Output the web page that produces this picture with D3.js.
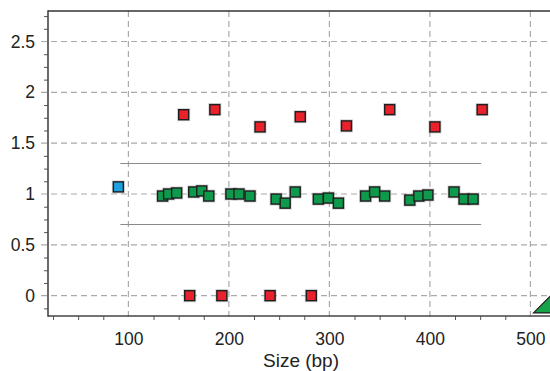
<!DOCTYPE html>
<html>
<head>
<meta charset="utf-8">
<script src="https://cdn.jsdelivr.net/npm/d3@7"></script>
<style>
  body { margin: 0; background: #fff; }
  svg { display: block; font-family: "Liberation Sans", Arial, sans-serif; }
</style>
</head>
<body>
<div id="chart"></div>
<script>
// data (x = size in bp, y = ratio)
var greenX = [134, 140, 148, 165, 173, 180, 202, 210, 221, 247, 256, 266, 289, 299, 309, 336, 345, 355, 380, 389, 398, 424, 434, 443]
var greenY = [0.98, 1.00, 1.01, 1.02, 1.03, 0.98, 1.00, 1.00, 0.98, 0.95, 0.91, 1.02, 0.95, 0.96, 0.91, 0.98, 1.02, 0.98, 0.94, 0.98, 0.99, 1.02, 0.95, 0.95]
var redX = [155, 186, 231, 271, 317, 360, 405, 452, 161, 193, 241, 282]
var redY = [1.78, 1.83, 1.66, 1.76, 1.67, 1.83, 1.66, 1.83, 0, 0, 0, 0]
var blueX = [90]
var blueY = [1.07]
var limitLines = [1.3, 0.7]
var limitRange = [92, 451]
var yTicks = [0, 0.5, 1, 1.5, 2, 2.5]
var xTicks = [100, 200, 300, 400, 500]
var markerX = [521]

var width = 550, height = 371
var mLeft = 48, mTop = 11, mBottom = 316

var svg = d3.select("#chart")
  .append("svg")
  .attr("width", width)
  .attr("height", height)

var x = d3.scaleLinear().domain([20, 540]).range([mLeft, mLeft + 520 * 1.005])
var y = d3.scaleLinear().domain([-0.2, 2.8]).range([mBottom, mTop])

// grid lines
svg.append("g").selectAll("line")
  .data(yTicks)
  .enter().append("line")
  .attr("x1", mLeft - 7).attr("x2", width)
  .attr("y1", function(d){ return y(d) }).attr("y2", function(d){ return y(d) })
  .style("stroke", "#aaa").style("stroke-dasharray", "6,4").style("stroke-width", 1.2)

svg.append("g").selectAll("line")
  .data(xTicks)
  .enter().append("line")
  .attr("x1", function(d){ return x(d) }).attr("x2", function(d){ return x(d) })
  .attr("y1", mTop).attr("y2", mBottom + 5)
  .style("stroke", "#aaa").style("stroke-dasharray", "6,4").style("stroke-width", 1.2)

// minor ticks
var yMinor = d3.range(-0.125, 2.8, 0.125).filter(function(d){ return Math.abs(d * 2 - Math.round(d * 2)) > 0.01 })
svg.append("g")
  .attr("transform", "translate(" + mLeft + ",0)")
  .call(d3.axisLeft(y).tickValues(yMinor).tickSize(4).tickFormat(""))
  .call(function(g){ g.select(".domain").remove() })
  .selectAll("line").style("stroke", "#555")

var xMinor = d3.range(25, 540, 25).filter(function(d){ return d % 100 != 0 && x(d) > mLeft })
svg.append("g")
  .attr("transform", "translate(0," + mBottom + ")")
  .call(d3.axisBottom(x).tickValues(xMinor).tickSize(4).tickFormat(""))
  .call(function(g){ g.select(".domain").remove() })
  .selectAll("line").style("stroke", "#555")

// tick labels
var yAxis = svg.append("g")
  .attr("transform", "translate(" + mLeft + ",0)")
  .call(d3.axisLeft(y).tickValues(yTicks).tickFormat(d3.format("~g")).tickSize(0).tickPadding(13))
yAxis.select(".domain").remove()
yAxis.selectAll("text").style("font-size", "17.5px").style("fill", "#222")
  .style("font-family", "'Liberation Sans', Arial, sans-serif")

var xAxis = svg.append("g")
  .attr("transform", "translate(0," + mBottom + ")")
  .call(d3.axisBottom(x).tickValues(xTicks).tickSize(0).tickPadding(17))
xAxis.select(".domain").remove()
xAxis.selectAll("text").style("font-size", "17.5px").style("fill", "#222")
  .style("font-family", "'Liberation Sans', Arial, sans-serif")

svg.append("text")
  .attr("x", 301).attr("y", 367)
  .attr("text-anchor", "middle")
  .style("font-size", "19px").style("fill", "#222")
  .text("Size (bp)")

// limit lines
svg.append("g").selectAll("line")
  .data(limitLines)
  .enter().append("line")
  .attr("x1", x(limitRange[0])).attr("x2", x(limitRange[1]))
  .attr("y1", function(d){ return y(d) }).attr("y2", function(d){ return y(d) })
  .style("stroke", "#8a8a8a").style("stroke-width", 1.2)

// frame
svg.append("line").attr("x1", mLeft).attr("x2", width).attr("y1", mTop).attr("y2", mTop)
  .style("stroke", "#333").style("stroke-width", 1.6)
svg.append("line").attr("x1", mLeft).attr("x2", mLeft).attr("y1", mTop - 0.8).attr("y2", mBottom + 0.8)
  .style("stroke", "#444").style("stroke-width", 1.6)
svg.append("line").attr("x1", mLeft).attr("x2", width).attr("y1", mBottom).attr("y2", mBottom)
  .style("stroke", "#444").style("stroke-width", 1.6)

// squares
function squares(xs, ys, fill) {
  var pts = xs.map(function(d, i){ return {x: d, y: ys[i]} })
  var g = svg.append("g")
  g.selectAll(".halo")
    .data(pts).enter().append("rect")
    .attr("x", function(d){ return x(d.x) - 6.5 })
    .attr("y", function(d){ return y(d.y) - 6.5 })
    .attr("width", 13).attr("height", 13)
    .style("fill", "#999").style("opacity", 0.45)
  g.selectAll(".pt")
    .data(pts).enter().append("rect")
    .attr("x", function(d){ return x(d.x) - 5 })
    .attr("y", function(d){ return y(d.y) - 5 })
    .attr("width", 10).attr("height", 10)
    .style("fill", fill)
    .style("stroke", "#1e1e1e").style("stroke-width", 1.4)
}
squares(greenX, greenY, "#0e9a4c")
squares(redX, redY, "#e8212b")
squares(blueX, blueY, "#1ba1e2")

// corner marker (clipped at the edge)
svg.append("g").selectAll("path")
  .data(markerX)
  .enter().append("path")
  .attr("d", function(d){
    var cx = x(d), b = y(-0.17)
    return "M" + (cx - 18) + "," + b + "L" + cx + "," + (b - 18) + "L" + (cx + 18) + "," + b + "Z"
  })
  .style("fill", "#17a34a").style("stroke", "#1e1e1e").style("stroke-width", 1.2)
</script>
</body>
</html>
